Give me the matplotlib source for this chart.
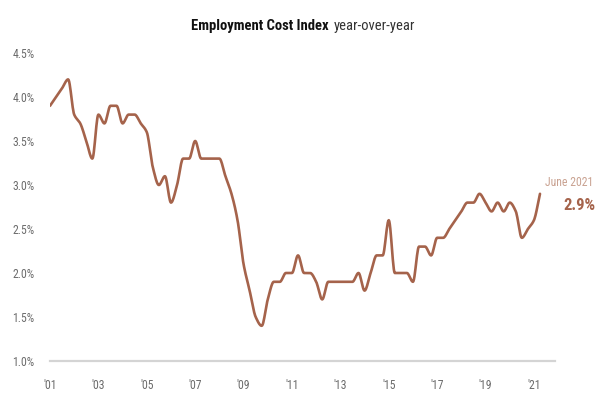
import numpy as np
import matplotlib
matplotlib.use("Agg")
import matplotlib.pyplot as plt
from matplotlib import font_manager as fm

# ---- data ----
start_year = 2001
eci_yoy = [
    3.9, 4.0, 4.1, 4.2,   # 2001
    3.8, 3.7, 3.5, 3.3,   # 2002
    3.8, 3.7, 3.9, 3.9,   # 2003
    3.7, 3.8, 3.8, 3.7,   # 2004
    3.6, 3.2, 3.0, 3.1,   # 2005
    2.8, 3.0, 3.3, 3.3,   # 2006
    3.5, 3.3, 3.3, 3.3,   # 2007
    3.3, 3.1, 2.9, 2.6,   # 2008
    2.1, 1.8, 1.5, 1.4,   # 2009
    1.7, 1.9, 1.9, 2.0,   # 2010
    2.0, 2.2, 2.0, 2.0,   # 2011
    1.9, 1.7, 1.9, 1.9,   # 2012
    1.9, 1.9, 1.9, 2.0,   # 2013
    1.8, 2.0, 2.2, 2.2,   # 2014
    2.6, 2.0, 2.0, 2.0,   # 2015
    1.9, 2.3, 2.3, 2.2,   # 2016
    2.4, 2.4, 2.5, 2.6,   # 2017
    2.7, 2.8, 2.8, 2.9,   # 2018
    2.8, 2.7, 2.8, 2.7,   # 2019
    2.8, 2.7, 2.4, 2.5,   # 2020
    2.6, 2.9,             # 2021
]
x_tick_years = [2001, 2003, 2005, 2007, 2009, 2011, 2013, 2015, 2017, 2019, 2021]
x_tick_labels = ["'01", "'03", "'05", "'07", "'09", "'11", "'13", "'15", "'17", "'19", "'21"]
y_ticks = [1.0, 1.5, 2.0, 2.5, 3.0, 3.5, 4.0, 4.5]
y_tick_labels = ["1.0%", "1.5%", "2.0%", "2.5%", "3.0%", "3.5%", "4.0%", "4.5%"]
title_bold = "Employment Cost Index"
title_light = "year-over-year"
last_label = "June 2021"
last_value_label = "2.9%"

# ---- font choice ----
avail = {f.name for f in fm.fontManager.ttflist}
narrow = None
for cand in ["Liberation Sans Narrow", "Roboto Condensed", "Open Sans Condensed", "Arial Narrow"]:
    if cand in avail:
        narrow = cand
        break
if narrow is None:
    narrow = "DejaVu Sans"
    stretch = "condensed"
else:
    stretch = "normal"
plt.rcParams["font.family"] = [narrow, "DejaVu Sans"]
plt.rcParams["font.stretch"] = stretch


def monotone_cubic(x, y, n=12):
    x = np.asarray(x, float)
    y = np.asarray(y, float)
    h = np.diff(x)
    d = np.diff(y) / h
    m = np.zeros_like(y)
    m[0] = d[0]
    m[-1] = d[-1]
    for i in range(1, len(y) - 1):
        if d[i - 1] * d[i] <= 0:
            m[i] = 0.0
        else:
            w1 = 2 * h[i] + h[i - 1]
            w2 = h[i] + 2 * h[i - 1]
            m[i] = (w1 + w2) / (w1 / d[i - 1] + w2 / d[i])
    xs, ys = [], []
    for i in range(len(x) - 1):
        t = np.linspace(0, 1, n, endpoint=False)
        h00 = 2 * t**3 - 3 * t**2 + 1
        h10 = t**3 - 2 * t**2 + t
        h01 = -2 * t**3 + 3 * t**2
        h11 = t**3 - t**2
        xs.append(x[i] + t * h[i])
        ys.append(h00 * y[i] + h10 * h[i] * m[i] + h01 * y[i + 1] + h11 * h[i] * m[i + 1])
    xs.append([x[-1]])
    ys.append([y[-1]])
    return np.concatenate(xs), np.concatenate(ys)


t = start_year + np.arange(len(eci_yoy)) / 4.0
xs, ys = monotone_cubic(t, eci_yoy)

W, H = 600, 399
fig = plt.figure(figsize=(6.0, 3.99), dpi=100)
fig.patch.set_facecolor("white")
ax = fig.add_axes([50 / W, (H - 361) / H, 505 / W, 308 / H])
ax.set_xlim(2001, 2021.87)
ax.set_ylim(1.0, 4.5)

line_color = "#a5634b"
ax.axhline(1.0, color="#d4d4d4", lw=1.6, zorder=1, clip_on=False)
ax.plot(xs, ys, color=line_color, lw=1.9, solid_capstyle="round", solid_joinstyle="round", zorder=3)

for s in ax.spines.values():
    s.set_visible(False)
ax.set_xticks(x_tick_years)
ax.set_xticklabels(x_tick_labels)
ax.set_yticks(y_ticks)
ax.set_yticklabels(y_tick_labels)
ax.tick_params(axis="both", length=0, labelsize=8.5, labelcolor="#6b6b6b")
ax.tick_params(axis="y", pad=11)
ax.tick_params(axis="x", pad=13)

# title
fig.text(329 / W, 1 - 30 / H, title_bold, ha="right", va="baseline",
         fontsize=10.5, fontweight="bold", color="#111111")
fig.text(334 / W, 1 - 30 / H, title_light, ha="left", va="baseline",
         fontsize=10.5, color="#333333")

# end annotation
fig.text(593 / W, 1 - 183 / H, last_label, ha="right", va="center",
         fontsize=8.5, color="#c9a291")
fig.text(595 / W, 1 - 206 / H, last_value_label, ha="right", va="center",
         fontsize=12, fontweight="bold", color=line_color)

fig.savefig("out.png", dpi=100, facecolor="white")
